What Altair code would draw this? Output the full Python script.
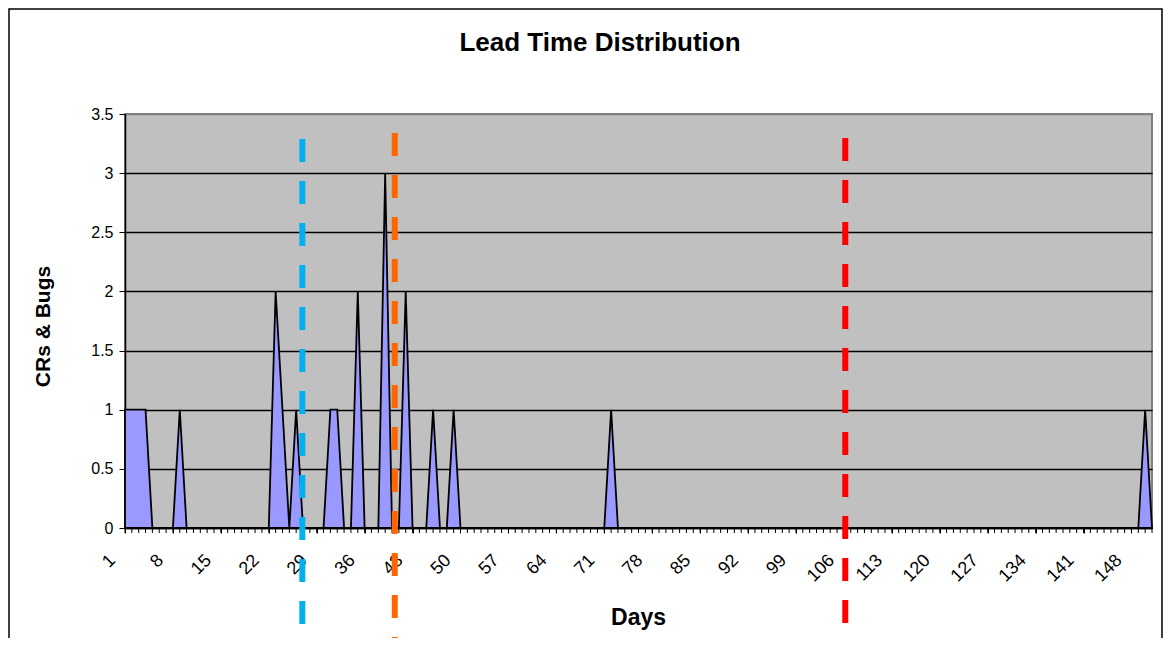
import altair as alt
import pandas as pd

# ---- data ----
first_day = 1
last_day = 151
spike_days = [1, 2, 3, 4, 9, 23, 24, 26, 31, 32, 35, 39, 42, 46, 49, 72, 150]
spike_counts = [1, 1, 1, 1, 1, 2, 1, 1, 1, 1, 2, 3, 2, 1, 1, 1, 1]
tick_label_days = [1, 8, 15, 22, 29, 36, 43, 50, 57, 64, 71, 78, 85, 92, 99,
                   106, 113, 120, 127, 134, 141, 148]
y_ticks = [0, 0.5, 1, 1.5, 2, 2.5, 3, 3.5]
marker_names = ["blue", "orange", "red"]
marker_days = [26.9, 40.4, 106.2]
chart_title = "Lead Time Distribution"

days = list(range(first_day, last_day + 1))
lookup = dict(zip(spike_days, spike_counts))
counts = [lookup.get(d, 0) for d in days]
df = pd.DataFrame({"day": days, "count": counts})

W, H = 1027, 414
FONT = "Liberation Sans"

x_scale = alt.Scale(domain=[first_day, last_day], nice=False, zero=False)
y_scale = alt.Scale(domain=[0, 3.5], nice=False)

area = alt.Chart(df).mark_area(
    color="#9999FF", stroke="black", strokeWidth=1.8, strokeJoin="miter", interpolate="linear"
).encode(
    x=alt.X("day:Q", scale=x_scale, axis=alt.Axis(
        values=tick_label_days,
        labelAngle=315, labelFontSize=18, labelFont=FONT, labelColor="black",
        labelOverlap=False, labelFlush=False, labelPadding=18, labelOffset=-19,
        tickSize=5, tickColor="black", tickWidth=1, domainColor="black", domainWidth=1.5,
        grid=False, title="Days", titleFont=FONT, titleFontSize=23, titleFontWeight="bold",
        titleColor="black", titleX=513, titleY=89, titleBaseline="middle", titleAlign="center")),
    y=alt.Y("count:Q", scale=y_scale, axis=alt.Axis(
        values=y_ticks, format="~g", labelFontSize=16, labelFont=FONT, labelColor="black",
        labelPadding=6, tickSize=6, tickColor="black", domainColor="black", domainWidth=1.5,
        grid=True, gridColor={"condition": {"test": "datum.value >= 3.5", "value": "#808080"}, "value": "black"},
        gridWidth=1.3, title="CRs & Bugs", titleFont=FONT, titleFontSize=21,
        titleFontWeight="bold", titleColor="black", titleAngle=270, titleX=-82, titleY=212,
        titleBaseline="middle", titleAlign="center")),
)

# minor tick marks at every day below the x axis line
day_ticks = alt.Chart(df).mark_rule(color="black", strokeWidth=1).encode(
    x=alt.X("day:Q", scale=x_scale),
    y=alt.value(H),
    y2=alt.value(H + 5),
)

marker_colors = {"blue": "#00B0F0", "orange": "#FF6600", "red": "#FF0000"}
marker_tops = {"blue": 25, "orange": 19, "red": 24}
layers = [area, day_ticks]
for name, d in zip(marker_names, marker_days):
    mdf = pd.DataFrame({"day": [d]})
    layers.append(
        alt.Chart(mdf).mark_rule(
            color=marker_colors[name], strokeWidth=6, strokeDash=[23, 19], strokeCap="butt"
        ).encode(
            x=alt.X("day:Q", scale=x_scale),
            y=alt.value(marker_tops[name]),
            y2=alt.value(620),
        )
    )

border = alt.Chart(pd.DataFrame({"k": [0]})).mark_rect(
    fill="white", fillOpacity=0, stroke="black", strokeWidth=1.5
).encode(
    x=alt.value(-116), x2=alt.value(1037), y=alt.value(-105), y2=alt.value(700)
)
layers.append(border)

title_mark = alt.Chart(pd.DataFrame({"t": [chart_title]})).mark_text(
    font=FONT, fontSize=26, fontWeight="bold", color="black", align="center", baseline="middle"
).encode(
    x=alt.value(475), y=alt.value(-71), text="t:N"
)
layers.append(title_mark)

chart = alt.layer(*layers).properties(
    width=W, height=H,
    padding={"left": 117, "top": 106, "right": 11, "bottom": 110},
    autosize=alt.AutoSizeParams(type="none"),
    background="white",
).configure_view(
    fill="#C0C0C0", stroke="#808080", strokeWidth=2
)

chart.save("out.html", embed_options={"renderer": "svg", "actions": False})
